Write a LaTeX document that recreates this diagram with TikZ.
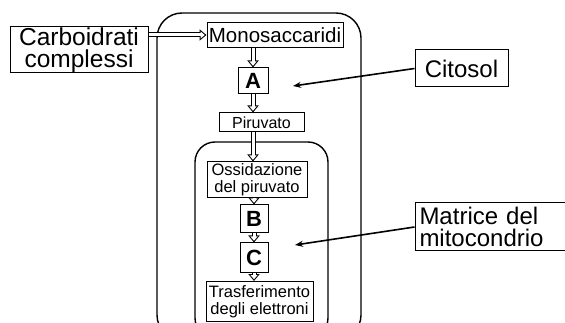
\documentclass[tikz,border=0pt]{standalone}
\usepackage{fontspec}
\setmainfont{Liberation Sans}
\usetikzlibrary{arrows.meta}
\begin{document}
\begin{tikzpicture}[x=1pt,y=-1pt,
  box/.style={draw, line width=1pt, inner sep=0pt, align=center},
  letter/.style={box, font=\fontsize{22}{22}\selectfont\bfseries},
  hollow/.style={line width=5pt, -{Triangle[length=7pt,width=11pt]},
     postaction={draw, white, line width=3pt, shorten >=1.7pt, -{Triangle[length=4.3pt,width=6.8pt]}}},
  pointer/.style={line width=1.6pt, -{Stealth[length=8pt,width=6pt]}},
  region/.style={draw, line width=1.4pt}]
\useasboundingbox (0,0) rectangle (565,323);
\fill[white] (0,0) rectangle (565,323);
% regions
\draw[region, rounded corners=25pt] (157,13) rectangle (361,340);
\draw[region, rounded corners=20pt] (195,142) rectangle (328,338);
\coordinate (hy) at (0,35);
% nodes
\node[box, fill=white, minimum width=138pt, minimum height=46pt, font=\fontsize{24.5}{22.5}\selectfont] (carbo) at (79,50) {Carboidrati\\complessi};
\node[box, fill=white, minimum width=136pt, minimum height=25pt, font=\fontsize{20.5}{20}\selectfont] (mono) at (275,35.5) {Monosaccaridi};
\node[letter, minimum width=30pt, minimum height=26pt] (A) at (253,81) {A};
\node[box, minimum width=85pt, minimum height=19pt, font=\fontsize{16}{16}\selectfont] (piru) at (261.5,122.5) {Piruvato};
\node[box, minimum width=100pt, minimum height=36pt, font=\fontsize{16.5}{17}\selectfont] (ossi) at (257,180) {Ossidazione\\del piruvato};
\node[letter, minimum width=28pt, minimum height=28pt] (B) at (254,219) {B};
\node[letter, minimum width=28pt, minimum height=29pt] (C) at (254,257.5) {C};
\node[box, minimum width=107pt, minimum height=40pt, font=\fontsize{16.5}{17}\selectfont] (tras) at (259.5,301.5) {Trasferimento\\degli elettroni};
\node[box, minimum width=93pt, minimum height=37pt, font=\fontsize{24}{24}\selectfont] (cito) at (461.5,68.5) {Citosol};
\node[box, minimum width=152pt, minimum height=48pt, align=left, text width=143pt, font=\fontsize{24}{22.5}\selectfont] (matr) at (491,227) {Matrice del\\mitocondrio};
\coordinate (citotip) at (293,86);
\coordinate (matrtip) at (295,245);
% hollow arrows
\draw[hollow] (carbo.east |- hy) -- (mono.west |- hy);
\draw[hollow] (mono.south -| A) -- (A.north);
\draw[hollow] (A.south) -- (piru.north -| A);
\draw[hollow] (piru.south -| A) -- (ossi.north -| A);
\draw[hollow] (ossi.south -| B) -- (B.north);
\draw[hollow] (B.south) -- (C.north);
\draw[hollow] (C.south) -- (tras.north -| C);
% pointers
\draw[pointer] (cito.west) -- (citotip);
\draw[pointer] (matr.west) -- (matrtip);
\end{tikzpicture}
\end{document}
